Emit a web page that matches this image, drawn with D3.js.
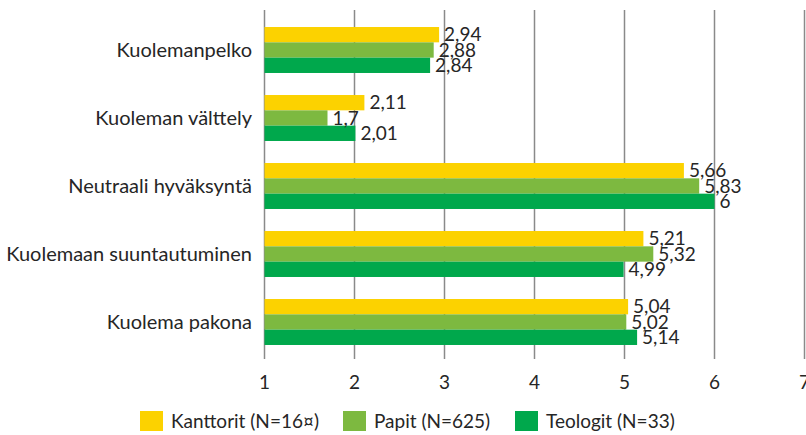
<!DOCTYPE html>
<html><head><meta charset="utf-8">
<script src="https://cdn.jsdelivr.net/npm/d3@7"></script>
<style>body{margin:0;background:#fff}svg{display:block}text{font-family:Lato,"Open Sans",sans-serif;fill:#262626}</style>
</head><body><svg id="c" width="806" height="435"></svg>
<script>
const categories = ["Kuolemanpelko","Kuoleman välttely","Neutraali hyväksyntä","Kuolemaan suuntautuminen","Kuolema pakona"];
const seriesNames = ["Kanttorit (N=16¤)","Papit (N=625)","Teologit (N=33)"];
const kanttorit = [2.94, 2.11, 5.66, 5.21, 5.04];
const papit = [2.88, 1.7, 5.83, 5.32, 5.02];
const teologit = [2.84, 2.01, 6, 4.99, 5.14];
const xTicks = [1,2,3,4,5,6,7];
const colors = ["#FCD200","#7DB940","#00A84C"];

const series = [kanttorit, papit, teologit];
const svg = d3.select("#c");
const x = d3.scaleLinear().domain([1,7]).range([264.5, 804.5]);
const y = d3.scaleBand().domain(categories).range([16, 356]).paddingInner(0.324).paddingOuter(0.162);
const ySub = d3.scaleBand().domain(d3.range(3)).range([0, y.bandwidth()]);
const fmt = v => String(v).replace(".", ",");
const fs = 19;

// gridlines
svg.append("g").selectAll("line").data(xTicks).join("line")
  .attr("x1", d => x(d)).attr("x2", d => x(d)).attr("y1", 10).attr("y2", 359)
  .attr("stroke", "#8a8a8a").attr("stroke-width", 1.5);

// tick labels
svg.append("g").selectAll("text").data(xTicks).join("text")
  .attr("x", d => x(d)).attr("y", 389).attr("text-anchor", "middle")
  .attr("font-size", fs).text(d => d);

// category labels
svg.append("g").selectAll("text").data(categories).join("text")
  .attr("x", 252).attr("y", d => y(d) + y.bandwidth()/2).attr("dy", "0.35em")
  .attr("text-anchor", "end").attr("font-size", 20).text(d => d);

// bars
const groups = svg.append("g").selectAll("g").data(categories).join("g")
  .attr("transform", d => `translate(0,${y(d)})`);
groups.selectAll("rect").data((d,i) => series.map((s,k) => ({k, v: s[i]}))).join("rect")
  .attr("x", x(1)).attr("y", d => ySub(d.k)).attr("height", ySub.bandwidth())
  .attr("width", d => x(d.v) - x(1)).attr("fill", d => colors[d.k]);
groups.selectAll("text").data((d,i) => series.map((s,k) => ({k, v: s[i]}))).join("text")
  .attr("x", d => x(d.v) + 5).attr("y", d => ySub(d.k) + ySub.bandwidth()/2).attr("dy", "0.35em")
  .attr("font-size", fs).text(d => fmt(d.v));

// legend
const legX = [140, 343, 515];
const lg = svg.append("g").selectAll("g").data(seriesNames).join("g")
  .attr("transform", (d,i) => `translate(${legX[i]},411)`);
lg.append("rect").attr("width", 23).attr("height", 20).attr("fill", (d,i) => colors[i]);
lg.append("text").attr("x", 31).attr("y", 10).attr("dy", "0.35em").attr("font-size", fs).text(d => d);
</script></body></html>
